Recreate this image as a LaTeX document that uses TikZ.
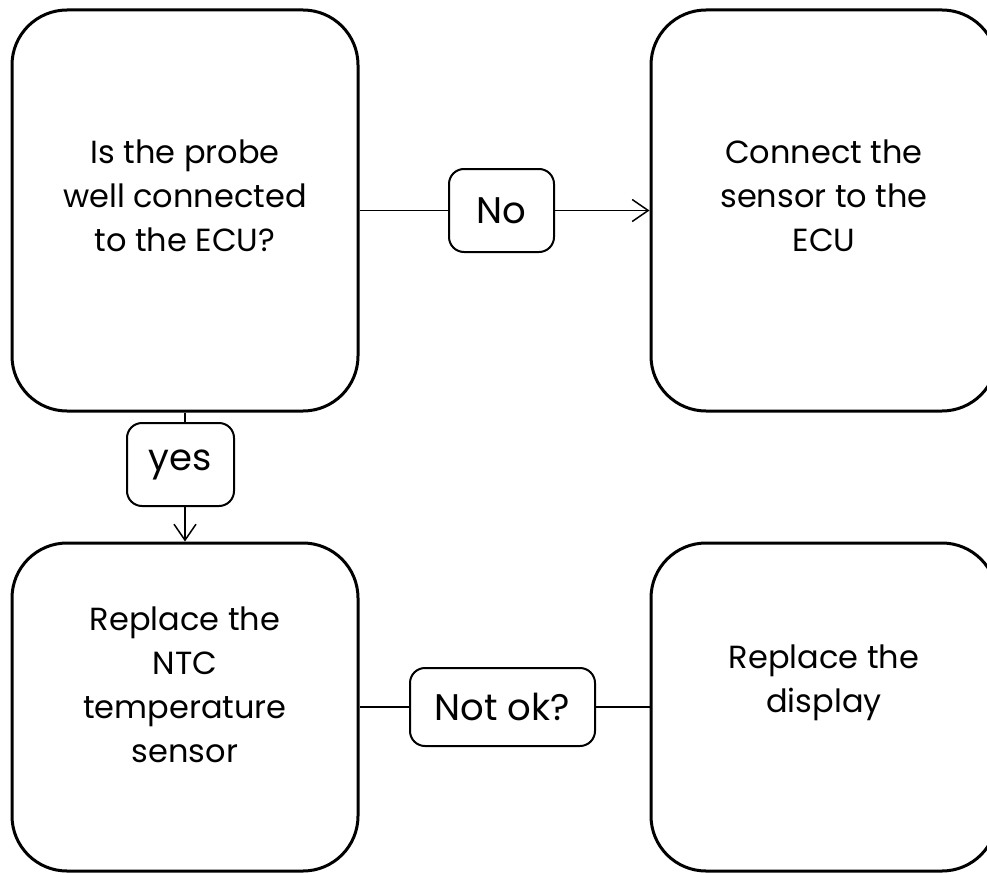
\documentclass[tikz,border=0pt]{standalone}
\usepackage{fontspec}
\setmainfont{Poppins}
\usetikzlibrary{arrows.meta}
\tikzset{
    stepbox/.style={draw, line width=3pt, rounded corners=55pt, minimum width=346pt, inner sep=0pt},
    answer/.style={draw, line width=2pt, rounded corners=15pt, inner sep=0pt, minimum height=83pt, font=\fontsize{37}{40}\selectfont},
    boxtext/.style={align=center, inner sep=0pt, font=\fontsize{32}{44}\selectfont},
    link/.style={line width=1.5pt},
}
\begin{document}
\begin{tikzpicture}[x=1pt, y=-1pt, >={Straight Barb[length=16pt,width=22pt]}, line join=round]
    \useasboundingbox (0,0) rectangle (987,872);
    % the four steps
    \node[stepbox, minimum height=401pt] (probe) at (185,210.5) {};
    \node[stepbox, minimum height=401pt] (connect) at (824,210.5) {};
    \node[stepbox, minimum height=328pt] (ntc) at (185,707) {};
    \node[stepbox, minimum height=328pt] (display) at (824,707) {};
    \node[boxtext] (probe text) at (185,196) {Is the probe\\well connected\\to the ECU?};
    \node[boxtext] (connect text) at (824,196) {Connect the\\sensor to the\\ECU};
    \node[boxtext] (ntc text) at (185,685) {Replace the\\NTC\\temperature\\sensor};
    \node[boxtext] (display text) at (824,683) {Replace the\\display};
    % answers
    \node[answer, minimum width=105pt] (no) at (501.5,210.5) {No};
    \node[answer, minimum width=107pt] (yes) at (180.5,464.5) {yes};
    \node[answer, minimum width=185pt, minimum height=78pt] (notok) at (502.5,707) {Not ok?};
    % connectors
    \draw[link] (probe) -- (no);
    \draw[link, ->] (no) -- (connect);
    \draw[link] (probe.south) -- (probe.south |- yes.north);
    \draw[link, ->] (probe.south |- yes.south) -- (ntc.north);
    \draw[link] (ntc) -- (notok);
    \draw[link] (notok) -- (display);
\end{tikzpicture}
\end{document}
